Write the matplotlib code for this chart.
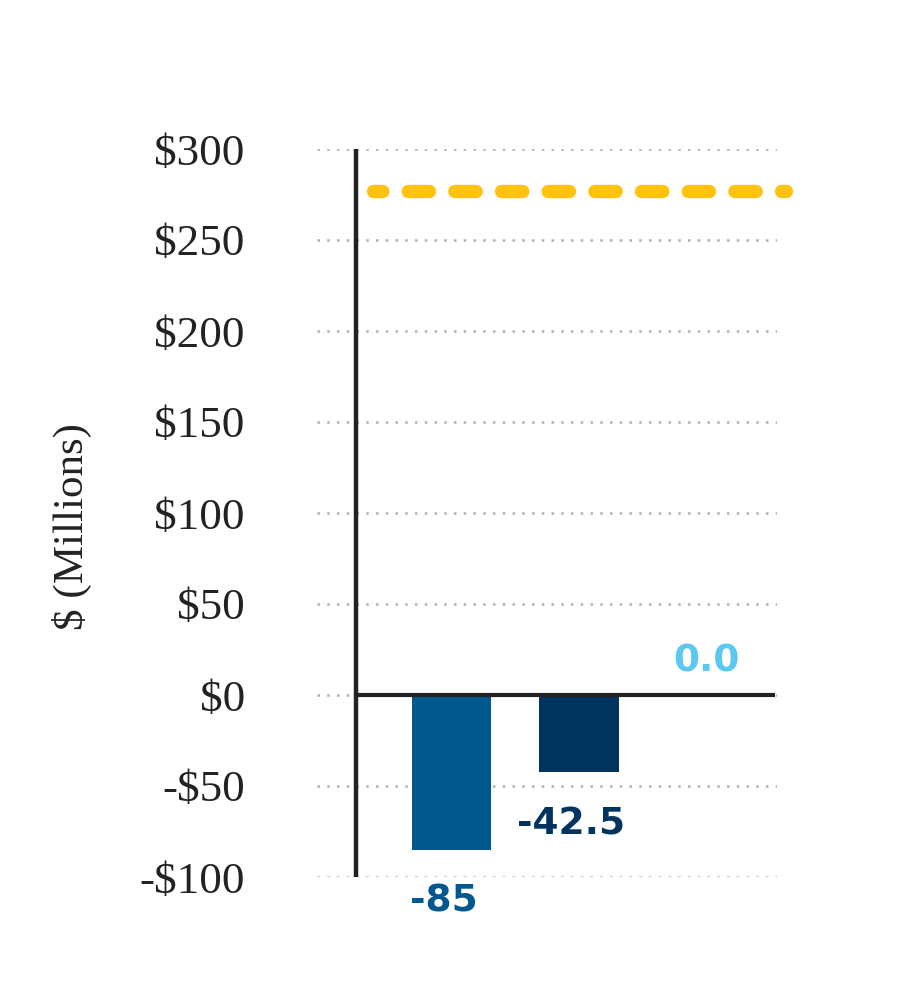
import numpy as np
import matplotlib.pyplot as plt

# data
categories = ['A', 'B', 'C']
values = [-85, -42.5, 0.0]
value_labels = ['-85', '-42.5', '0.0']
bar_colors = ['#00588f', '#00345f', '#5bc8f0']
target = 277
yticks = [-100, -50, 0, 50, 100, 150, 200, 250, 300]
ytick_labels = ['-$100', '-$50', '$0', '$50', '$100', '$150', '$200', '$250', '$300']

fig = plt.figure(figsize=(8.99, 10.01), dpi=100)
ax = fig.add_axes([317 / 899, (1001 - 877) / 1001, 460 / 899, 728 / 1001])

x = np.arange(len(categories))
ax.bar(x, values, width=0.62, color=bar_colors, zorder=2)

# axis frame, drawn by hand
ax.set_xlim(-1.055, 2.553)
ax.set_ylim(-100, 300)
for s in ax.spines.values():
    s.set_visible(False)
ax.axvline(-0.749, color='#222222', lw=3.2, zorder=3)
ax.plot([-0.749, 2.537], [0, 0], color='#222222', lw=3.0, zorder=3, solid_capstyle='butt')

# gridlines
for t in yticks:
    ax.axhline(t, color='#b0b0b0', lw=1.8, linestyle=(0, (1, 2.9)), zorder=1)

# target line
ax.plot([-0.612, 2.623], [target, target], color='#ffc20e', lw=9.6,
        linestyle=(0.9, (1.6, 1.9)), dash_capstyle='round', clip_on=False, zorder=4)

ax.set_xticks([])
ax.set_yticks(yticks)
ax.set_yticklabels(ytick_labels, family='Liberation Serif', fontsize=32.5, color='#222222')
ax.tick_params(axis='y', length=0, pad=52)

# value labels
for xi, v, lab, c in zip(x, values, value_labels, bar_colors):
    if v < 0:
        ax.annotate(lab, (xi, v), xytext=(-8, -52), textcoords='offset pixels',
                    ha='center', va='center', fontsize=27, fontweight='bold', color=c)
    else:
        ax.annotate(lab, (xi, v), xytext=(0, 33), textcoords='offset pixels',
                    ha='center', va='center', fontsize=27, fontweight='bold', color=c)

fig.text(72 / 899, 1 - 527 / 1001, '$ (Millions)', rotation=90, ha='center', va='center',
         family='Liberation Serif', fontsize=31, color='#222222')

fig.savefig('out.png', dpi=100)
